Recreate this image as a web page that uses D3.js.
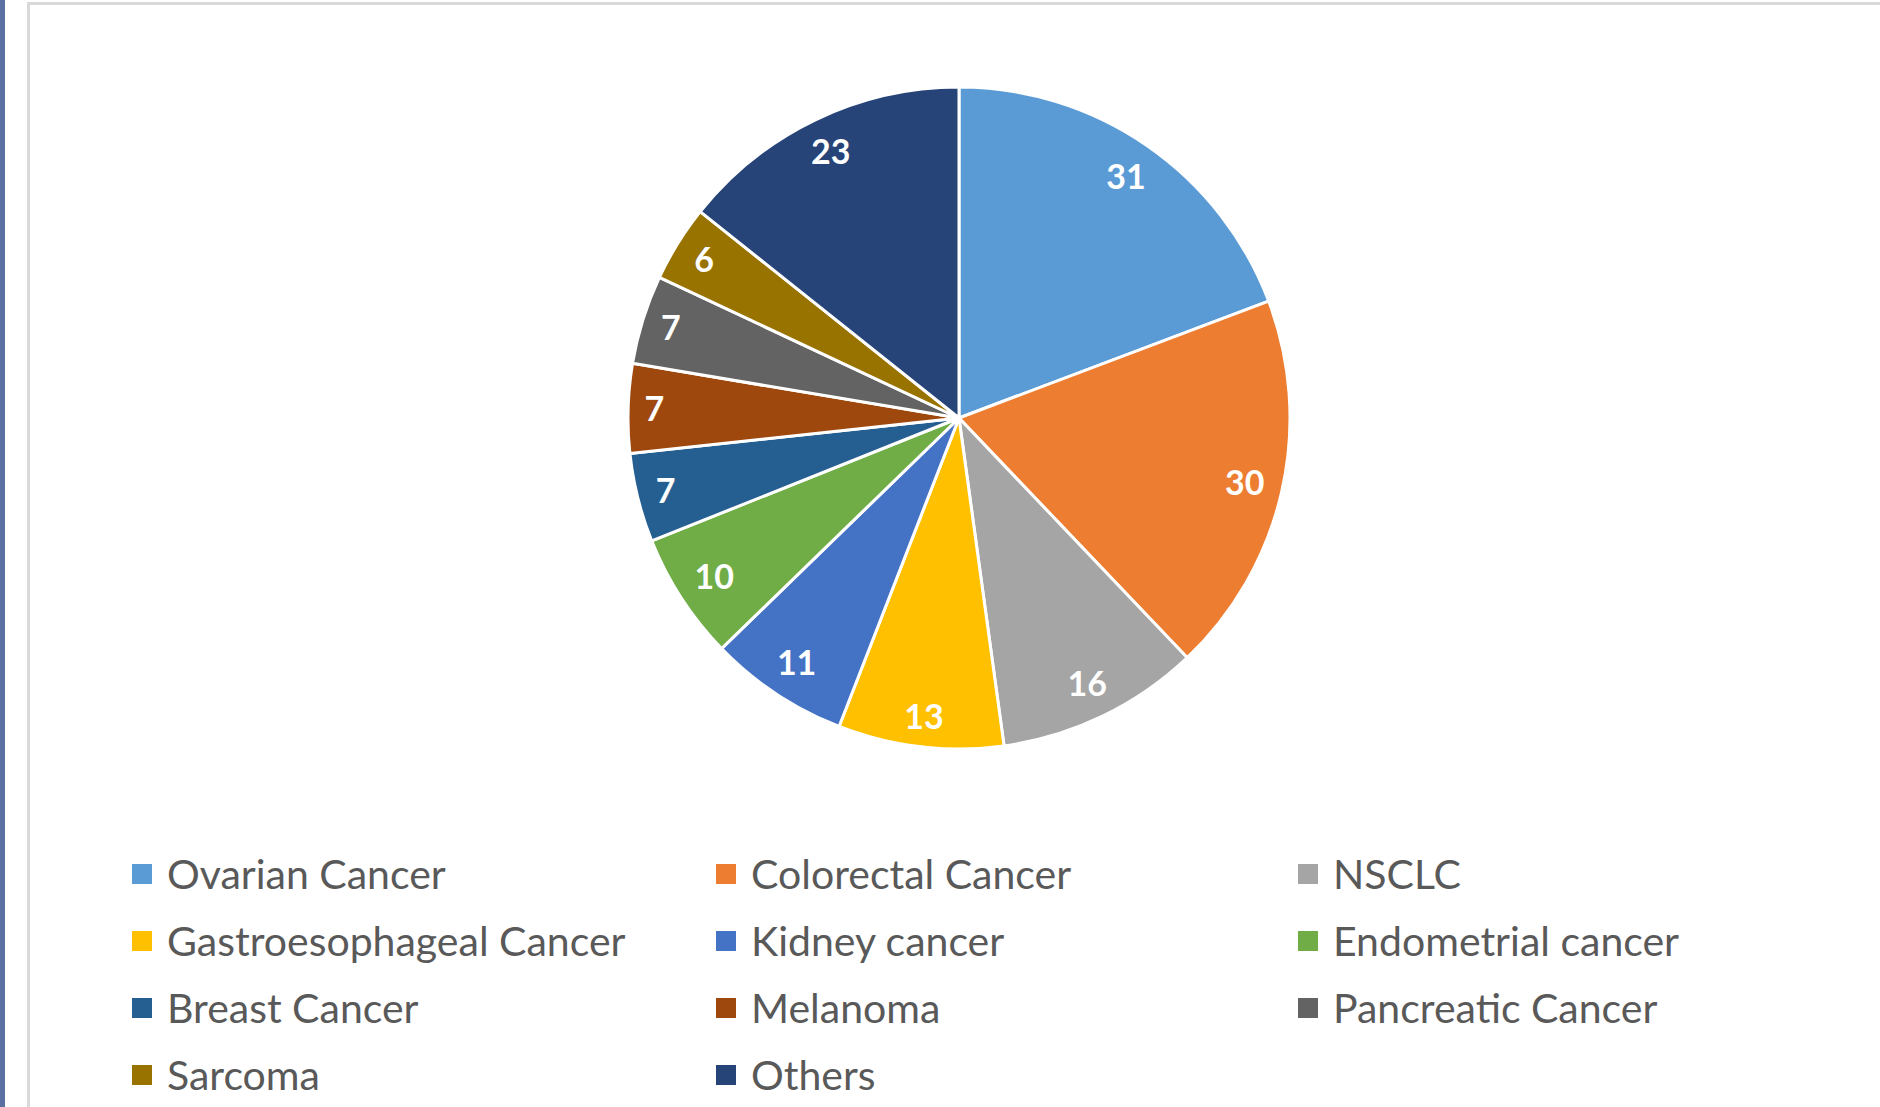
<!DOCTYPE html>
<html>
<head>
<meta charset="utf-8">
<script src="https://cdn.jsdelivr.net/npm/d3@7"></script>
<style>
  html, body { margin: 0; padding: 0; background: #fff; }
  svg { display: block; }
</style>
</head>
<body>
<svg id="chart" width="1880" height="1107"></svg>
<script>
// Cases by tumour type
const categories = [
  "Ovarian Cancer", "Colorectal Cancer", "NSCLC",
  "Gastroesophageal Cancer", "Kidney cancer", "Endometrial cancer",
  "Breast Cancer", "Melanoma", "Pancreatic Cancer",
  "Sarcoma", "Others"
];
const values = [31, 30, 16, 13, 11, 10, 7, 7, 7, 6, 23];
const colors = [
  "#5B9BD5", "#ED7D31", "#A5A5A5",
  "#FFC000", "#4472C4", "#70AD47",
  "#255E91", "#9E480E", "#636363",
  "#997300", "#264478"
];

const svg = d3.select("#chart");
const W = 1880, H = 1107;

// side strip and chart frame
svg.append("rect").attr("x", 0).attr("y", 0).attr("width", 5).attr("height", H).attr("fill", "#5B6FA0");
svg.append("rect")
  .attr("x", 28.5).attr("y", 3.5)
  .attr("width", W + 20).attr("height", H + 20)
  .attr("fill", "#fff").attr("stroke", "#D9D9D9").attr("stroke-width", 3);

const cx = 959, cy = 418, R = 331;
const data = categories.map((c, i) => ({ name: c, value: values[i], color: colors[i] }));

const pie = d3.pie().value(d => d.value).sort(null);
const arc = d3.arc().innerRadius(0).outerRadius(R);
const arcs = pie(data);

const g = svg.append("g").attr("transform", `translate(${cx},${cy})`);

g.selectAll("path.slice")
  .data(arcs)
  .join("path")
  .attr("class", "slice")
  .attr("d", arc)
  .attr("fill", d => d.data.color)
  .attr("stroke", "#fff")
  .attr("stroke-width", 3)
  .attr("stroke-linejoin", "round");

// value labels placed just inside the outer edge
const labelFont = 34;
const labels = g.selectAll("text.val")
  .data(arcs)
  .join("text")
  .attr("class", "val")
  .attr("text-anchor", "middle")
  .attr("font-family", "Lato, 'Open Sans', sans-serif")
  .attr("font-weight", "bold")
  .attr("font-size", labelFont)
  .attr("fill", "#fff")
  .text(d => d.data.value);

labels.each(function(d) {
  const w = this.getComputedTextLength();
  const h = labelFont * 0.72;
  const a = (d.startAngle + d.endAngle) / 2;
  const sx = Math.sin(a), sy = -Math.cos(a);
  const ext = Math.abs(sx) * w / 2 + Math.abs(sy) * h / 2;
  const r = R - 16 - ext;
  d3.select(this).attr("x", sx * r).attr("y", sy * r + h / 2);
});

// legend: three columns
const legendFont = 41;
const colX = [132, 716, 1298];
const rowY = [874, 941, 1008, 1075];
const legend = svg.append("g");
data.forEach((d, i) => {
  const col = i % 3, row = Math.floor(i / 3);
  const x = colX[col], y = rowY[row];
  legend.append("rect")
    .attr("x", x).attr("y", y - 10)
    .attr("width", 20).attr("height", 20)
    .attr("fill", d.color);
  legend.append("text")
    .attr("x", x + 35).attr("y", y + legendFont * 0.36)
    .attr("font-family", "Lato, 'Open Sans', sans-serif")
    .attr("font-size", legendFont)
    .attr("fill", "#595959")
    .text(d.name);
});
</script>
</body>
</html>
